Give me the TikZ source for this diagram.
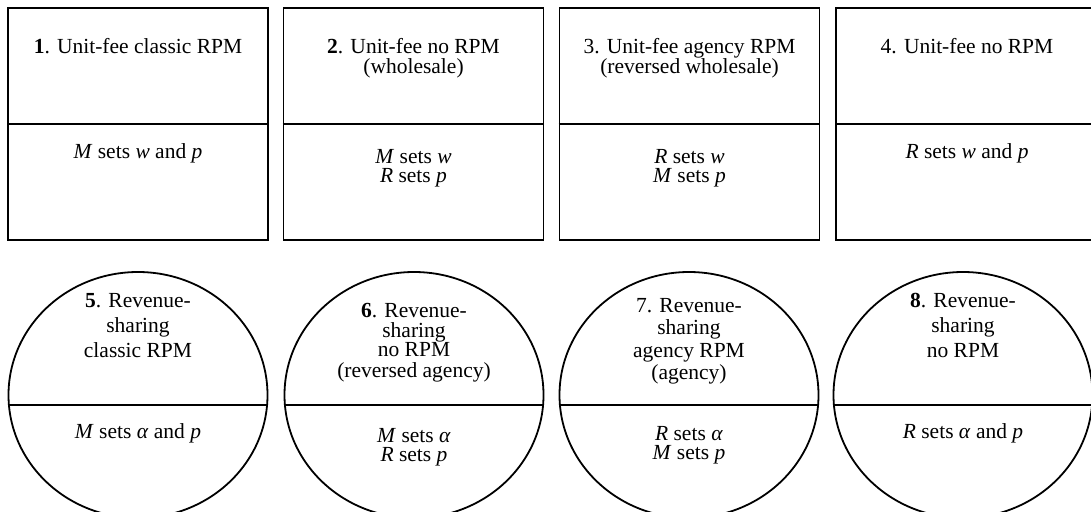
\documentclass[tikz,border=0pt]{standalone}
\usepackage{fontspec}
\setmainfont{Liberation Serif}
\usetikzlibrary{shapes.geometric}
\newcommand\varit[1]{\textit{#1}}
\newcommand\stacklines[1]{\begin{tabular}[t]{@{}c@{}}#1\end{tabular}}
\begin{document}
\begin{tikzpicture}[x=1pt,y=-1pt,
  lbl/.style={anchor=base, inner sep=0pt, font=\fontsize{21.5}{#1}\selectfont},
  lbl/.default=20,
  boxshape/.style={draw, line width=1.8pt, minimum width=260pt, minimum height=232pt, inner sep=0pt},
  ovalshape/.style={draw, ellipse, line width=1.8pt, minimum width=259pt, minimum height=246pt, inner sep=0pt},
  divider/.style={line width=1.1pt}]
\useasboundingbox (0,0) rectangle (1091,511);
\fill[white] (0,0) rectangle (1091,511);

% ---- top row: boxes ----
\node[boxshape] (b1) at (138,124) {};
\node[boxshape] (b2) at (413.5,124) {};
\node[boxshape] (b3) at (689.5,124) {};
\node[boxshape] (b4) at (966,124) {};
\foreach \b in {b1,b2,b3,b4} \draw[divider] (\b.west) -- (\b.east);

\node[lbl] (t1a) at (138,54) {\textbf{1}. Unit-fee classic RPM};
\node[lbl] (t1b) at (138,158) {\varit{M} sets \varit{w} and \varit{p}};

\node[lbl=20] (t2a) at (413.5,53) {\stacklines{\textbf{2}. Unit-fee no RPM\\(wholesale)}};
\node[lbl=18] (t2b) at (413.5,163) {\stacklines{\varit{M} sets \varit{w}\\\varit{R} sets \varit{p}}};

\node[lbl=20] (t3a) at (689.5,53) {\stacklines{3. Unit-fee agency RPM\\(reversed wholesale)}};
\node[lbl=18] (t3b) at (689.5,163) {\stacklines{\varit{R} sets \varit{w}\\\varit{M} sets \varit{p}}};

\node[lbl] (t4a) at (967,53) {4. Unit-fee no RPM};
\node[lbl] (t4b) at (967,158) {\varit{R} sets \varit{w} and \varit{p}};

% ---- bottom row: ellipses ----
\node[ovalshape] (e5) at (138,395) {};
\node[ovalshape] (e6) at (414,395) {};
\node[ovalshape] (e7) at (689,395) {};
\node[ovalshape] (e8) at (963,395) {};
\foreach \e in {e5,e6,e7,e8} \draw[divider] ([yshift=-10pt]\e.west) -- ([yshift=-10pt]\e.east);

\node[lbl=25] (t5a) at (138,307) {\stacklines{\textbf{5}. Revenue-\\sharing\\classic RPM}};
\node[lbl] (t5b) at (138,438) {\varit{M} sets \varit{α} and \varit{p}};

\node[lbl=18] (t6a) at (414,317) {\stacklines{\textbf{6}. Revenue-\\sharing\\no RPM\\(reversed agency)}};
\node[lbl=18] (t6b) at (414,442) {\stacklines{\varit{M} sets \varit{α}\\\varit{R} sets \varit{p}}};

\node[lbl=22.5] (t7a) at (689,312) {\stacklines{7. Revenue-\\sharing\\agency RPM\\(agency)}};
\node[lbl=18] (t7b) at (689,440) {\stacklines{\varit{R} sets \varit{α}\\\varit{M} sets \varit{p}}};

\node[lbl=25] (t8a) at (963,307) {\stacklines{\textbf{8}. Revenue-\\sharing\\no RPM}};
\node[lbl] (t8b) at (963,438) {\varit{R} sets \varit{α} and \varit{p}};
\end{tikzpicture}
\end{document}
